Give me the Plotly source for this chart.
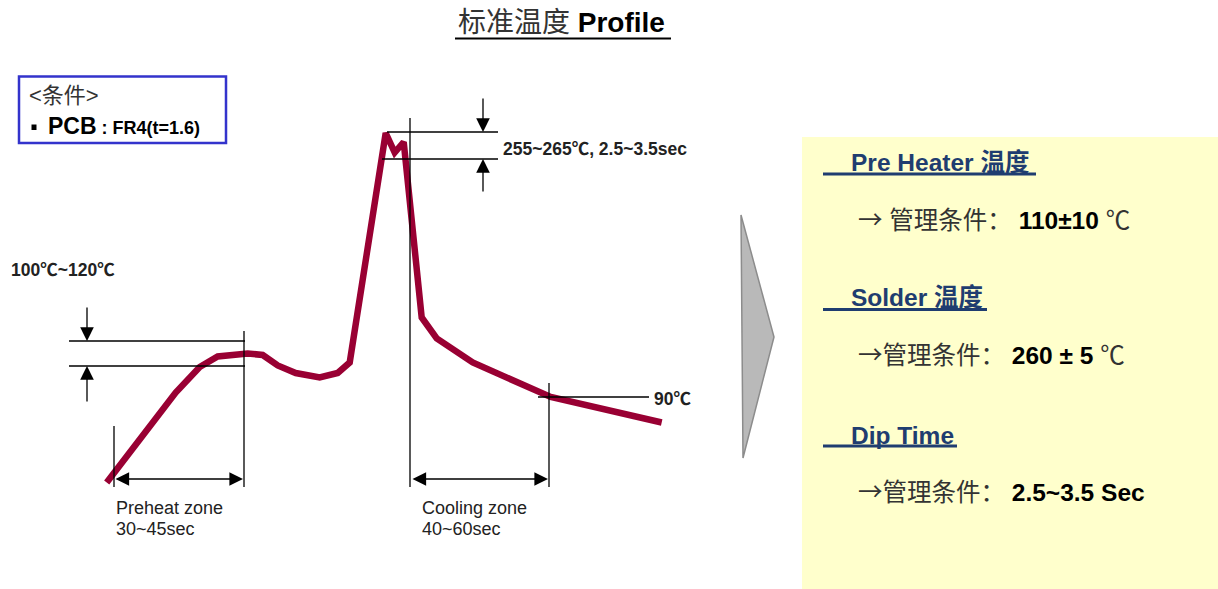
import plotly.graph_objects as go

# ---------------- data (schematic reflow profile) ----------------
time_s = [0, 23, 31, 37, 47, 52, 57, 63, 71, 77, 81, 93, 96, 99, 105, 110, 122, 148, 185]
temp_c = [33, 93, 110, 117, 119, 118, 111, 106, 103, 106, 113, 266, 253, 260, 143, 129, 113, 90, 73]

title_cn = "标准温度"
title_en = "Profile"
cond_label = "&lt;条件&gt;"
pcb_label = "PCB"
pcb_spec = ": FR4(t=1.6)"
preheat_band_label = "100℃~120℃"
peak_label = "255~265℃, 2.5~3.5sec"
cool_label = "90℃"
zone_labels = [("Preheat zone", "30~45sec"), ("Cooling zone", "40~60sec")]
spec_heads = ["Pre Heater 温度", "Solder 温度", "Dip Time"]
spec_arrow_gap = [" ", "", ""]
spec_prefix = "管理条件："
spec_values = ["110±10", "260 ± 5", "2.5~3.5"]
spec_units = ["℃", "℃", "Sec"]

# ---------------- geometry helpers (page pixel -> data units) ----------------
W, H = 1218, 589
X0, SX = 106.7, 3.0      # px of t=0, px per second
Y0, T0, SY = 397.0, 90.0, 1.5  # px of 90C, px per degC


def X(px):
    return (px - X0) / SX


def Y(py):
    return T0 + (Y0 - py) / SY


FONT = "Liberation Sans, Arial, Noto Sans CJK SC, sans-serif"
CJK = "Noto Sans CJK SC"
CURVE = "#990033"
BLUE = "#1F3D70"

fig = go.Figure()
fig.add_trace(go.Scatter(x=time_s, y=temp_c, mode="lines",
                         line=dict(color=CURVE, width=6.5), hoverinfo="skip",
                         showlegend=False))

shapes = []
annotations = []


def line(x1, y1, x2, y2, color="black", width=1.3):
    shapes.append(dict(type="line", xref="x", yref="y", x0=X(x1), y0=Y(y1),
                       x1=X(x2), y1=Y(y2), line=dict(color=color, width=width)))


def arrow(tx, ty, sx, sy, both=False):
    a = dict(xref="x", yref="y", axref="x", ayref="y", x=X(tx), y=Y(ty),
             ax=X(sx), ay=Y(sy), text="", showarrow=True, arrowhead=2,
             arrowsize=2.1, arrowwidth=1.3, arrowcolor="black", standoff=0)
    if both:
        a.update(arrowside="end+start", startarrowhead=2, startarrowsize=2.1,
                 startstandoff=0)
    annotations.append(a)


def text(px, py, s, size, color="black", xanchor="left", yanchor="middle"):
    annotations.append(dict(xref="x", yref="y", x=X(px), y=Y(py), text=s,
                            showarrow=False, xanchor=xanchor, yanchor=yanchor,
                            font=dict(family=FONT, size=size, color=color)))


def cjk(s):
    return f"<span style='font-family:{CJK}'>{s}</span>"


# yellow spec panel
shapes.append(dict(type="rect", xref="x", yref="y", x0=X(802), y0=Y(137),
                   x1=X(1218), y1=Y(589), fillcolor="#FFFFCC",
                   line=dict(width=0), layer="below"))
# grey chevron
shapes.append(dict(type="path", xref="x", yref="y",
                   path=f"M{X(741)},{Y(215)} L{X(774)},{Y(337)} L{X(743)},{Y(458)} Z",
                   fillcolor="#B9B9B9", line=dict(color="#8C8C8C", width=1.5)))
# condition box
shapes.append(dict(type="rect", xref="x", yref="y", x0=X(19), y0=Y(76.5),
                   x1=X(226), y1=Y(143), fillcolor="rgba(0,0,0,0)",
                   line=dict(color="#3333CC", width=2.5)))
shapes.append(dict(type="rect", xref="x", yref="y", x0=X(31.5), y0=Y(124.5),
                   x1=X(36.5), y1=Y(130), fillcolor="black", line=dict(width=0)))

# title underline
line(455, 38.5, 671, 38.5, width=2)

# preheat band
line(69, 341, 245, 341)
line(69, 366, 245, 366)
line(244, 331, 244, 487)
line(114, 426, 114, 487)
arrow(87, 341, 87, 306)
arrow(87, 366, 87, 403)
arrow(243, 479, 114, 479, both=True)

# peak band
line(387, 132, 498, 132)
line(382, 159, 498, 159)
line(410, 118, 410, 487)
arrow(483, 132, 483, 97)
arrow(483, 159, 483, 193)

# cooling zone
line(549, 383, 549, 487)
arrow(548, 479, 411, 479, both=True)
line(538, 397, 649, 397)

# texts
text(561, 22, f"<span style='color:#333333'>{title_cn}</span> <b>{title_en}</b>",
     28, xanchor="center")
text(27, 95, cond_label, 22, color="#333333")
text(46, 126, f"<b>{pcb_label}</b><span style='font-size:18px'><b> {pcb_spec}</b></span>", 23)
text(9, 268, f"<b>{preheat_band_label.replace('℃', cjk('℃'))}</b>", 17.5, color="#222222")
text(501, 147, f"<b>{peak_label.replace('℃', cjk('℃'))}</b>", 17.5, color="#222222")
text(652, 397, f"<b>{cool_label.replace('℃', cjk('℃'))}</b>", 17.5, color="#222222")
text(114, 508, zone_labels[0][0], 18, color="#222222")
text(114, 529, zone_labels[0][1], 18, color="#222222")
text(420, 508, zone_labels[1][0], 18, color="#222222")
text(420, 529, zone_labels[1][1], 18, color="#222222")

head_y = [162, 297, 435]
line_y = [174, 309.5, 446]
line_x1 = [1036, 987, 957]
val_y = [218, 353, 490]
for i in range(3):
    text(849, head_y[i], f"<b>{spec_heads[i]}</b>", 24.5, color=BLUE)
    line(823, line_y[i], line_x1[i], line_y[i], color=BLUE, width=3)
    unit = (f"<b>{spec_units[i]}</b>" if spec_units[i] == "Sec" else
            f"<span style='color:#333333'>{cjk(spec_units[i])}</span>")
    text(856, val_y[i],
         f"<span style='color:#333333'>{cjk('→')}{spec_arrow_gap[i]}{cjk(spec_prefix)}</span>"
         f" <b>{spec_values[i]}</b> " + unit,
         24.5, color="black")

fig.update_layout(
    width=W, height=H, margin=dict(l=0, r=0, t=0, b=0, pad=0),
    paper_bgcolor="white", plot_bgcolor="white",
    xaxis=dict(range=[X(0), X(W)], visible=False, fixedrange=True),
    yaxis=dict(range=[Y(H), Y(0)], visible=False, fixedrange=True),
    shapes=shapes, annotations=annotations, showlegend=False,
    font=dict(family=FONT),
)

fig.write_html("out.html", config={"displayModeBar": False},
               post_script="document.body.style.margin='0';document.body.style.overflow='hidden';")
